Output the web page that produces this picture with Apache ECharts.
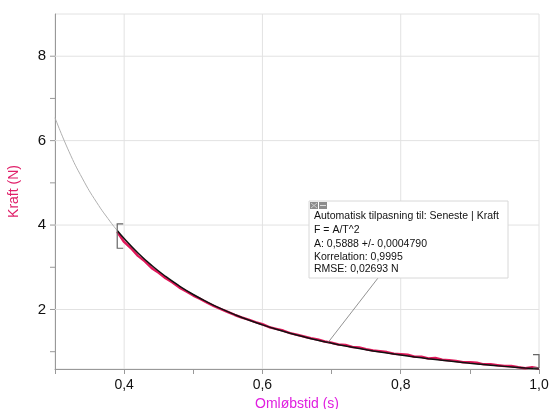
<!doctype html>
<html>
<head>
	<meta charset="UTF-8">
	<title>Kraft</title>
	<script src="https://cdn.jsdelivr.net/npm/echarts@6/dist/echarts.min.js"></script>
	<style>
		html, body { margin: 0; padding: 0; background: #fff; }
		#chart { width: 549px; height: 409px; }
	</style>
</head>
<body>
<div id="chart"></div>
<script>
	// maalte data (omloebstid, kraft)
	var tid = [0.39, 0.40, 0.41, 0.42, 0.43, 0.44, 0.45, 0.46, 0.47, 0.48, 0.49, 0.50, 0.51, 0.52, 0.53, 0.54, 0.55, 0.56, 0.57, 0.58,
		0.59, 0.60, 0.61, 0.62, 0.63, 0.64, 0.65, 0.66, 0.67, 0.68, 0.69, 0.70, 0.71, 0.72, 0.73, 0.74, 0.75, 0.76, 0.77, 0.78,
		0.79, 0.80, 0.81, 0.82, 0.83, 0.84, 0.85, 0.86, 0.87, 0.88, 0.89, 0.90, 0.91, 0.92, 0.93, 0.94, 0.95, 0.96, 0.97, 0.98, 0.99, 1.00];
	var kraft = [3.84, 3.60, 3.45, 3.27, 3.14, 2.98, 2.87, 2.74, 2.64, 2.52, 2.43, 2.33, 2.25, 2.16, 2.08, 2.01, 1.94, 1.87, 1.81, 1.76,
		1.70, 1.65, 1.58, 1.54, 1.50, 1.44, 1.40, 1.36, 1.32, 1.29, 1.24, 1.21, 1.17, 1.16, 1.11, 1.10, 1.06, 1.03, 1.01, 0.99,
		0.95, 0.94, 0.93, 0.88, 0.88, 0.84, 0.85, 0.81, 0.80, 0.78, 0.75, 0.75, 0.74, 0.70, 0.70, 0.68, 0.66, 0.66, 0.63, 0.61, 0.63, 0.60];

	// tilpasning F = A/T^2 (aflaest)
	var fitTid = [0.30, 0.32, 0.34, 0.36, 0.38, 0.39, 0.40, 0.42, 0.44, 0.46, 0.48, 0.50, 0.52, 0.54, 0.56, 0.58, 0.60, 0.62, 0.64,
		0.66, 0.68, 0.70, 0.72, 0.74, 0.76, 0.78, 0.80, 0.82, 0.84, 0.86, 0.88, 0.90, 0.92, 0.94, 0.96, 0.98, 1.00];
	var fitKraft = [6.542, 5.750, 5.093, 4.543, 4.078, 3.871, 3.680, 3.338, 3.041, 2.783, 2.556, 2.355, 2.178, 2.019, 1.878, 1.750, 1.636, 1.532, 1.438,
		1.352, 1.273, 1.202, 1.136, 1.075, 1.019, 0.968, 0.920, 0.876, 0.834, 0.796, 0.760, 0.727, 0.696, 0.666, 0.639, 0.613, 0.589];
	var fitStart = 0.39;

	// gitterlinjer
	var xGitter = [0.4, 0.6, 0.8];
	var yTicks = [1, 2, 3, 4, 5, 6, 7, 8];

	// markeringsklammer [T, fra, til, retning]
	var klammer = [[0.39, 3.45, 4.03, 1], [1.0, 0.62, 0.93, -1]];
	var pilPunkt = [0.695, 1.219];

	var boksTekst = [
		'Automatisk tilpasning til: Seneste | Kraft',
		'F = A/T^2',
		'A: 0,5888 +/- 0,0004790',
		'Korrelation: 0,9995',
		'RMSE: 0,02693 N'
	];

	function par(xs, ys, filter) {
		var out = [];
		for (var i = 0; i < xs.length; i++) {
			if (!filter || filter(xs[i])) out.push([xs[i], ys[i]]);
		}
		return out;
	}
	function komma(v) { return v.toFixed(1).replace('.', ','); }

	var chart = echarts.init(document.getElementById('chart'));
	var option = {
		animation: false,
		grid: { left: 55, right: 10, top: 14, bottom: 40, outerBoundsMode: 'none', show: true, borderColor: '#e2e2e2', borderWidth: 1 },
		xAxis: {
			type: 'value', min: 0.3, max: 1.0, interval: 0.1,
			name: 'Omløbstid (s)', nameLocation: 'middle', nameGap: 25,
			nameTextStyle: { color: '#e020e0', fontSize: 14, fontFamily: 'Liberation Sans' },
			axisLine: { show: true, lineStyle: { color: '#999' } },
			axisTick: { show: true, length: 5, lineStyle: { color: '#999' } },
			axisLabel: {
				color: '#111', fontSize: 14, fontFamily: 'Liberation Sans', margin: 9,
				formatter: function (v) { return Math.round(v * 10) % 2 === 0 ? komma(v) : ''; }
			},
			splitLine: { show: false }
		},
		yAxis: {
			type: 'value', min: 0.59, max: 9.0,
			name: 'Kraft (N)', nameLocation: 'middle', nameGap: 34,
			nameTextStyle: { color: '#e0206a', fontSize: 14, fontFamily: 'Liberation Sans' },
			axisLine: { show: true, lineStyle: { color: '#999' } },
			axisTick: { show: false },
			axisLabel: { show: false },
			splitLine: { show: false }
		},
		series: [
			{
				// y-ticks, etiketter og vandrette gitterlinjer
				type: 'custom', silent: true, z: 1,
				data: yTicks.map(function (v) { return [v]; }),
				renderItem: function (params, api) {
					var v = api.value(0);
					var p = api.coord([0.3, v]);
					var children = [{ type: 'line', shape: { x1: p[0] - 5, y1: p[1], x2: p[0], y2: p[1] }, style: { stroke: '#999', lineWidth: 1 } }];
					if (v % 2 === 0) {
						var q = api.coord([1.0, v]);
						children.push({ type: 'line', shape: { x1: p[0], y1: p[1], x2: q[0], y2: q[1] }, style: { stroke: '#e2e2e2', lineWidth: 1 } });
						children.push({ type: 'text', style: { text: String(v), x: p[0] - 9, y: p[1], align: 'right', verticalAlign: 'middle', fill: '#111', font: '15px Liberation Sans' } });
					}
					return { type: 'group', children: children };
				}
			},
			{
				// lodrette gitterlinjer
				type: 'custom', silent: true, z: 1,
				data: xGitter.map(function (v) { return [v]; }),
				renderItem: function (params, api) {
					var a = api.coord([api.value(0), 0.59]);
					var b = api.coord([api.value(0), 9.0]);
					return { type: 'line', shape: { x1: a[0], y1: a[1], x2: b[0], y2: b[1] }, style: { stroke: '#e2e2e2', lineWidth: 1 } };
				}
			},
			{
				type: 'line', silent: true, showSymbol: false, smooth: true, z: 3,
				data: par(fitTid, fitKraft, function (t) { return t <= fitStart; }),
				lineStyle: { color: '#b0b0b0', width: 1 }
			},
			{
				type: 'line', silent: true, showSymbol: false, z: 4,
				data: par(tid, kraft),
				lineStyle: { color: '#e0185a', width: 2.5 }
			},
			{
				type: 'line', silent: true, showSymbol: false, smooth: true, z: 5,
				data: par(fitTid, fitKraft, function (t) { return t >= fitStart; }),
				lineStyle: { color: '#111', width: 1.5 }
			},
			{
				type: 'custom', silent: true, z: 6,
				data: klammer,
				renderItem: function (params, api) {
					var a = api.coord([api.value(0), api.value(2)]);
					var b = api.coord([api.value(0), api.value(1)]);
					var d = api.value(3) * 6;
					return {
						type: 'polyline',
						shape: { points: [[a[0] + d, a[1]], [a[0], a[1]], [b[0], b[1]], [b[0] + d, b[1]]] },
						style: { stroke: '#666', fill: null, lineWidth: 1.2 }
					};
				}
			}
		]
	};
	chart.setOption(option);

	// tilpasningsboks
	var bx = 309, by = 201, bw = 199, bh = 77;
	var pil = chart.convertToPixel({ gridIndex: 0 }, pilPunkt);
	var tekster = boksTekst.map(function (s, i) {
		var ys = [218, 232, 246, 259, 271];
		return { type: 'text', left: bx + 5, top: ys[i] - 7, style: { text: s, fill: '#111', font: '10.5px Liberation Sans' }, z: 102 };
	});
	chart.setOption({
		graphic: [
			{ type: 'line', shape: { x1: 378, y1: by + bh, x2: pil[0], y2: pil[1] }, style: { stroke: '#777', lineWidth: 0.8 }, z: 100 },
			{ type: 'rect', shape: { x: bx, y: by, width: bw, height: bh }, style: { fill: '#fff', stroke: '#d8d8d8', lineWidth: 1 }, z: 101 },
			{ type: 'rect', shape: { x: bx + 1, y: by + 1, width: 8, height: 7 }, style: { fill: '#8c8c8c' }, z: 102 },
			{ type: 'rect', shape: { x: bx + 10, y: by + 1, width: 8, height: 7 }, style: { fill: '#8c8c8c' }, z: 102 },
			{ type: 'line', shape: { x1: bx + 2, y1: by + 2, x2: bx + 8, y2: by + 7 }, style: { stroke: '#ccc', lineWidth: 1 }, z: 103 },
			{ type: 'line', shape: { x1: bx + 8, y1: by + 2, x2: bx + 2, y2: by + 7 }, style: { stroke: '#ccc', lineWidth: 1 }, z: 103 },
			{ type: 'line', shape: { x1: bx + 11, y1: by + 4.5, x2: bx + 17, y2: by + 4.5 }, style: { stroke: '#ddd', lineWidth: 1 }, z: 103 }
		].concat(tekster)
	});
</script>
</body>
</html>
